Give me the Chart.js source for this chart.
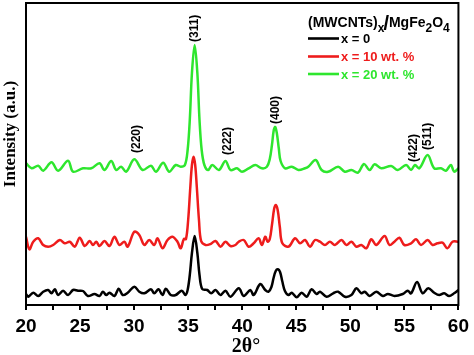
<!DOCTYPE html>
<html><head><meta charset="utf-8">
<script src="https://cdn.jsdelivr.net/npm/chart.js@4"></script>
<style>html,body{margin:0;padding:0;background:#fff}#c{display:block}</style>
</head><body>
<canvas id="c" width="474" height="355"></canvas>
<script>
// ---- data (2θ in degrees, intensity in arbitrary units with vertical offsets) ----
const blackX = [20.00,20.21,20.67,21.13,21.59,22.05,22.36,22.67,22.97,23.43,23.89,24.35,24.81,25.27,25.73,26.34,26.80,27.11,27.42,27.72,28.18,28.58,28.95,29.41,30.02,30.48,30.94,31.56,31.86,32.26,32.63,32.93,33.39,33.85,34.41,34.75,34.95,35.15,35.35,35.60,35.85,36.05,36.30,36.77,37.13,37.53,37.99,38.45,38.91,39.68,40.14,40.75,41.06,41.67,42.13,42.44,42.70,42.90,43.10,43.30,43.50,43.70,43.95,44.28,44.58,45.04,45.50,45.96,46.42,46.88,47.19,47.80,48.41,48.87,49.49,50.10,50.56,51.02,51.33,51.78,52.40,53.01,53.47,54.08,54.85,55.31,55.62,56.17,56.69,57.21,57.76,58.22,58.68,59.14,59.60,60.00];
const blackY = [11,8.3,12.3,9,13.3,15,11.7,15.7,10,14.3,10,15,14.3,14,9,11,9,13.3,10,12.3,9,16.3,10,12.3,18.3,13.3,11.7,15.7,11.7,15.7,10,16.3,10,10,14.3,10,15,30,52,69,52,30,16,15,11.7,15,10,14.3,8.3,16.7,9,15,10,21,15,13.3,18,27,34,35.7,33,24,14,10,12.3,7.7,12.3,8.3,15.7,11,13.3,8.3,11.7,13.3,8.3,10,16.7,11.7,13.3,9,13.3,9,11,9,11,14.3,11.7,23,11.7,16.7,12.3,10,11.7,9,11.7,15];

const redX = [20.00,20.31,20.67,21.13,21.59,22.05,22.51,23.13,23.59,24.05,24.51,24.97,25.43,25.89,26.19,26.50,26.80,27.26,27.72,28.18,28.64,29.10,29.41,30.02,30.48,30.94,31.40,31.86,32.17,32.63,33.09,33.55,34.01,34.31,34.60,34.80,35.00,35.20,35.35,35.50,35.65,35.80,36.00,36.20,36.61,37.07,37.53,37.99,38.45,38.91,39.37,39.68,40.14,40.60,41.06,41.52,41.82,42.13,42.35,42.55,42.75,42.95,43.10,43.28,43.48,43.70,44.28,44.89,45.35,45.81,46.27,46.73,47.19,47.65,48.11,48.57,49.18,49.64,50.10,50.56,51.02,51.48,51.94,52.40,53.17,53.62,54.08,54.54,55.00,55.62,56.08,56.54,57.15,57.61,58.07,58.53,58.99,59.45,60.00];
const redY = [68.3,55.7,63.3,66.7,60,58.3,60,65,61.7,63.3,58.3,67.3,59,64,60,63.3,59,64,59,68.3,60,63.3,58.3,73.3,70,60,65,60,66.7,56.7,65,68.3,63.3,56.7,66,66,85,118,140,148.3,140,118,85,64,60,61,64,58.3,63.3,59,60,63.3,65,58.3,61.7,66.7,60,68.3,63.3,66,80,96,100,95,78,62,58.3,66.7,61.7,65,58.3,65,63.3,60,63.3,60,65,60,63.3,58.3,60,56.7,65.7,60,69,60,63.3,67.3,60,61.7,65.7,60,65,60,61.7,62.3,56.7,63.3,63.3];

const greenX = [20.00,20.52,21.13,21.59,22.36,22.97,23.89,24.35,25.27,26.04,26.80,27.26,27.88,28.34,28.80,29.26,30.02,30.79,31.56,32.02,32.69,33.24,33.85,34.31,34.70,34.95,35.15,35.35,35.60,35.85,36.05,36.25,36.50,36.85,37.23,37.84,38.45,38.91,39.52,39.98,40.60,41.21,41.82,42.28,42.55,42.75,42.92,43.05,43.20,43.38,43.55,43.97,44.58,45.20,45.81,46.11,46.79,47.34,47.95,48.87,49.49,50.10,50.71,51.26,51.78,52.25,52.86,53.78,54.39,55.16,55.62,55.98,56.38,57.15,57.76,58.38,58.84,59.30,59.60,60.00];
const greenY = [141.7,136.7,139.3,134.3,142.7,134.3,144.3,133.3,136.7,136.7,141.7,135,144,135,138.3,133.3,145.7,135,139.3,133.3,142.3,133.3,140,138.3,140,155,185,232,260,232,185,155,140,135,140,135,144,135,136.7,133.3,136.7,140,136.7,138.3,146,160,175,178,172,157,144,136.7,138.3,135,136.7,138.3,145,135,133.3,138.3,133.3,135,132.3,141,135,140.7,136.7,139,135,140,135,140,136.7,150,136.7,136.7,134.3,140,133.3,136.7];

const seriesNames = ['x = 0', 'x = 10 wt. %', 'x = 20 wt. %'];
const xTickLabels = ['20','25','30','35','40','45','50','55','60'];
const peakLabels = ['(220)','(311)','(222)','(400)','(422)','(511)'];
const peakDeg    = [30.2, 35.6, 38.7, 43.05, 55.9, 57.15];
const peakLevel  = [152, 263, 150, 181, 143, 155];

const colors = ['#000000', '#ee1c1c', '#2ee62e'];
const toPts = (xs, ys) => xs.map((x, i) => ({x: x, y: ys[i]}));

const framePlugin = {
  id: 'frame',
  afterDraw(chart) {
    const {ctx, chartArea: a, scales} = chart;
    const xs = scales.x, ys = scales.y;
    ctx.save();
    ctx.strokeStyle = '#000'; ctx.lineWidth = 2;
    ctx.strokeRect(a.left, a.top, a.right - a.left, a.bottom - a.top);
    ctx.fillStyle = '#000';
    ctx.font = 'bold 12px "Liberation Sans", Arial, sans-serif';
    ctx.textAlign = 'left'; ctx.textBaseline = 'middle';
    peakLabels.forEach((t, i) => {
      ctx.save();
      ctx.translate(xs.getPixelForValue(peakDeg[i]), ys.getPixelForValue(peakLevel[i]));
      ctx.rotate(-Math.PI / 2);
      ctx.fillText(t, 0, 0);
      ctx.restore();
    });
    let x = 308; const base = 27;
    ctx.textBaseline = 'alphabetic';
    const seg = (txt, font, dy) => { ctx.font = font; ctx.fillText(txt, x, base + dy); x += ctx.measureText(txt).width; };
    const F = 'bold 14px "Liberation Sans", Arial, sans-serif';
    const S = 'bold 12px "Liberation Sans", Arial, sans-serif';
    seg('(MWCNTs)', F, 0);
    seg('x', S, 5);
    x -= 1;
    seg('/', 'bold 20px "Liberation Sans", Arial, sans-serif', 3);
    seg('MgFe', F, 0);
    seg('2', S, 5);
    seg('O', F, 0);
    seg('4', S, 5);
    const ly = [38.5, 56.5, 74];
    ctx.font = 'bold 13px "Liberation Sans", Arial, sans-serif';
    ctx.textBaseline = 'middle';
    seriesNames.forEach((n, i) => {
      ctx.strokeStyle = colors[i]; ctx.lineWidth = 2.6;
      ctx.beginPath(); ctx.moveTo(308, ly[i]); ctx.lineTo(339, ly[i]); ctx.stroke();
      ctx.fillStyle = colors[i];
      ctx.fillText(n, 341, ly[i] + 1);
    });
    ctx.fillStyle = '#000';
    ctx.font = 'bold 17px "Liberation Serif", "Times New Roman", serif';
    ctx.save();
    ctx.translate(15, 134); ctx.rotate(-Math.PI / 2);
    ctx.textAlign = 'center'; ctx.textBaseline = 'alphabetic';
    ctx.fillText('Intensity (a.u.)', 0, 0);
    ctx.restore();
    ctx.font = 'bold 20px "Liberation Serif", "Times New Roman", serif';
    ctx.textAlign = 'center'; ctx.textBaseline = 'alphabetic';
    ctx.fillText('2\u03B8\u00B0', 246, 352);
    ctx.restore();
  }
};

const mk = (label, xs, ys, c) => ({
  label: label, data: toPts(xs, ys), borderColor: c, borderWidth: 2.5,
  pointRadius: 0, fill: false, tension: 0.35
});

new Chart(document.getElementById('c').getContext('2d'), {
  type: 'line',
  data: { datasets: [
    mk(seriesNames[0], blackX, blackY, colors[0]),
    mk(seriesNames[1], redX, redY, colors[1]),
    mk(seriesNames[2], greenX, greenY, colors[2])
  ]},
  options: {
    responsive: false, animation: false,
    layout: { padding: { left: 26, right: 13, top: 3, bottom: 0 } },
    plugins: { legend: { display: false }, tooltip: { enabled: false } },
    scales: {
      x: {
        type: 'linear', min: 20, max: 60,
        afterFit(s) { s.height = 50; },
        ticks: {
          stepSize: 2.5, autoSkip: false, maxRotation: 0, padding: 5,
          color: '#000', font: { family: '"Liberation Sans", Arial, sans-serif', size: 19, weight: 'bold' },
          callback: (v) => { const i = xTickLabels.indexOf(String(v)); return i >= 0 ? xTickLabels[i] : ''; }
        },
        grid: { drawOnChartArea: false, drawTicks: true, tickLength: 5, color: '#000', lineWidth: 2 },
        border: { display: true, color: '#000', width: 2 }
      },
      y: { display: false, min: 0, max: 302 }
    }
  },
  plugins: [framePlugin]
});
</script>
</body></html>
